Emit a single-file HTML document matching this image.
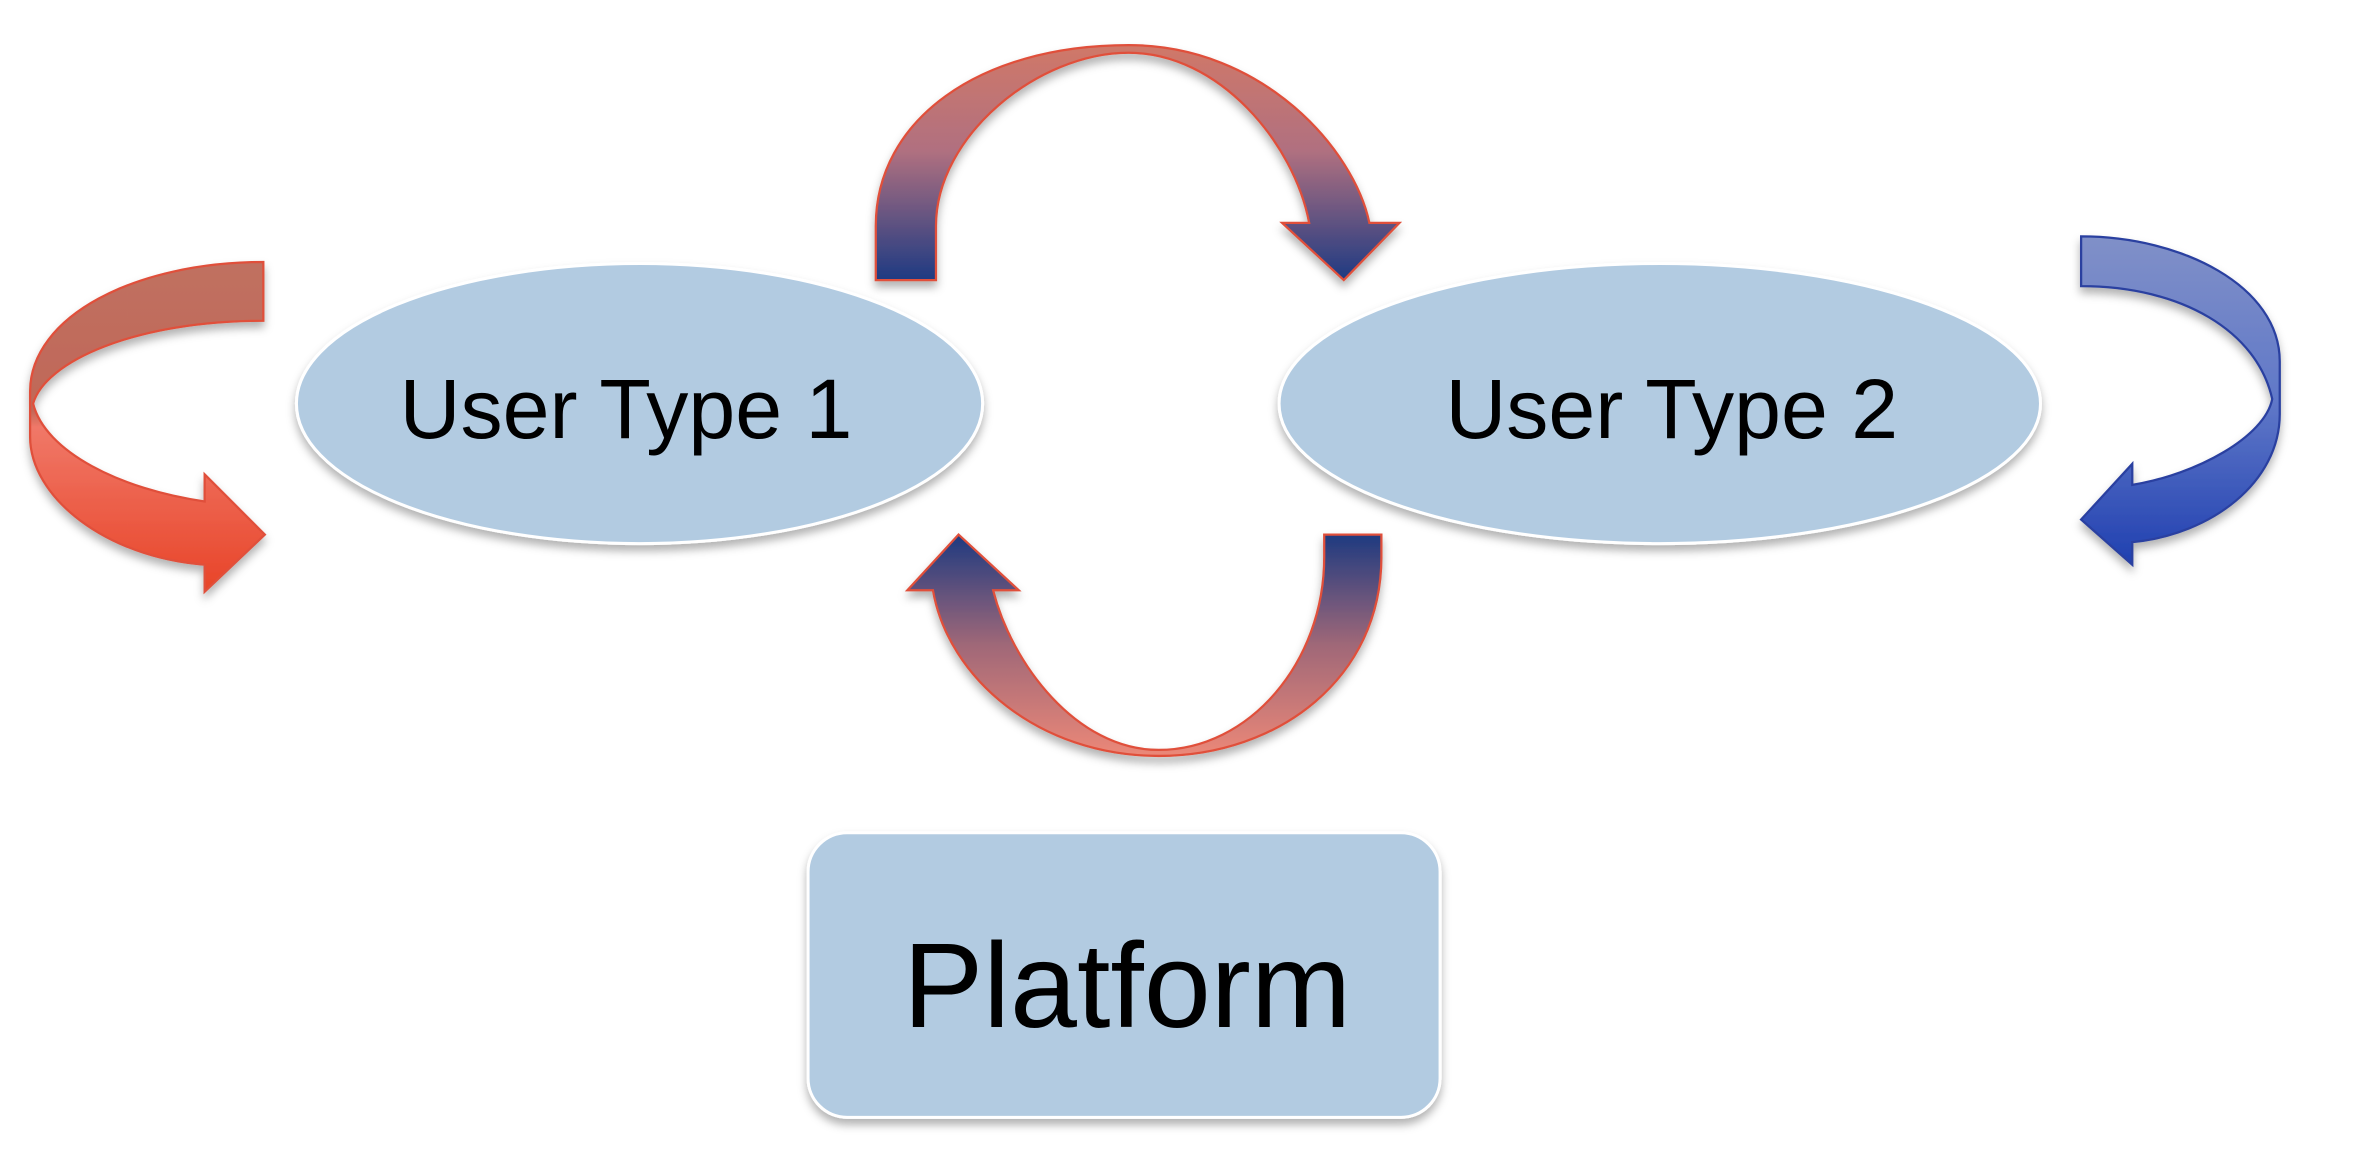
<!DOCTYPE html>
<html><head><meta charset="utf-8"><style>
html,body{margin:0;padding:0;background:#fff;}
svg{display:block;}
</style></head><body>
<svg width="2358" height="1158" viewBox="0 0 1567 769" preserveAspectRatio="none" xmlns="http://www.w3.org/2000/svg">
<defs>
<linearGradient id="gTop" x1="0" y1="0" x2="0" y2="1">
<stop offset="0" stop-color="#d07868"/><stop offset="0.45" stop-color="#b07080"/><stop offset="1" stop-color="#1e3a82"/></linearGradient>
<linearGradient id="gBot" x1="0" y1="0" x2="0" y2="1">
<stop offset="0" stop-color="#1e3a80"/><stop offset="0.5" stop-color="#a06878"/><stop offset="1" stop-color="#ec8878"/></linearGradient>
<linearGradient id="gL" x1="0" y1="0" x2="0" y2="1">
<stop offset="0" stop-color="#c07060"/><stop offset="0.45" stop-color="#c06858"/><stop offset="0.5" stop-color="#f07868"/><stop offset="1" stop-color="#e84428"/></linearGradient>
<linearGradient id="gR" x1="0" y1="0" x2="0" y2="1">
<stop offset="0" stop-color="#8090c8"/><stop offset="0.5" stop-color="#6078c8"/><stop offset="1" stop-color="#2040b0"/></linearGradient>
<filter id="sh" x="-10%" y="-10%" width="120%" height="130%"><feDropShadow dx="0" dy="4" stdDeviation="3" flood-color="#000" flood-opacity="0.3"/></filter>
</defs>

<ellipse cx="425" cy="268" rx="228" ry="93" fill="#b2cbe1" stroke="#fff" stroke-width="2" filter="url(#sh)"/>
<ellipse cx="1103" cy="268" rx="253" ry="93" fill="#b2cbe1" stroke="#fff" stroke-width="2" filter="url(#sh)"/>
<rect x="537" y="553" width="420" height="189" rx="26" fill="#b2cbe1" stroke="#fff" stroke-width="2" filter="url(#sh)"/>

<text x="416" y="291" font-family="Liberation Sans, sans-serif" font-size="56" text-anchor="middle" fill="#000">User Type 1</text>
<text x="1111" y="291" font-family="Liberation Sans, sans-serif" font-size="56" text-anchor="middle" fill="#000">User Type 2</text>
<text x="749" y="682" font-family="Liberation Sans, sans-serif" font-size="80" text-anchor="middle" fill="#000">Platform</text>

<path d="M582,186 L582,150 C582,80 650,30 750,30 C840,30 900,100 910,148 L930,148 L893,186 L852,148 L870,148 C860,95 810,35 750,35 C690,35 622,90 622,150 L622,186 Z" fill="url(#gTop)" stroke="#e0503a" stroke-width="1.5" filter="url(#sh)"/>
<path d="M918,355 L918,370 C918,450 850,502 770,502 C690,502 630,450 620,392 L603,392 L637,355 L677,392 L660,392 C672,440 715,498 770,498 C830,498 880,440 880,370 L880,355 Z" fill="url(#gBot)" stroke="#e0503a" stroke-width="1.5" filter="url(#sh)"/>
<path d="M175,174 L175,213 C90,213 30,240 22,268 C30,300 80,325 136,333 L136,315 L176,355 L136,393 L136,375 C70,370 20,330 20,290 L20,260 C20,210 90,174 175,174 Z" fill="url(#gL)" stroke="#e0503a" stroke-width="1.5" filter="url(#sh)"/>
<path d="M1383,157 C1450,157 1515,190 1515,240 L1515,275 C1515,320 1470,355 1417,360 L1417,375 L1383,345 L1417,308 L1417,322 C1460,315 1505,290 1510,265 C1500,220 1450,190 1383,190 Z" fill="url(#gR)" stroke="#2a40a0" stroke-width="1.5" filter="url(#sh)"/>
</svg>
</body></html>
